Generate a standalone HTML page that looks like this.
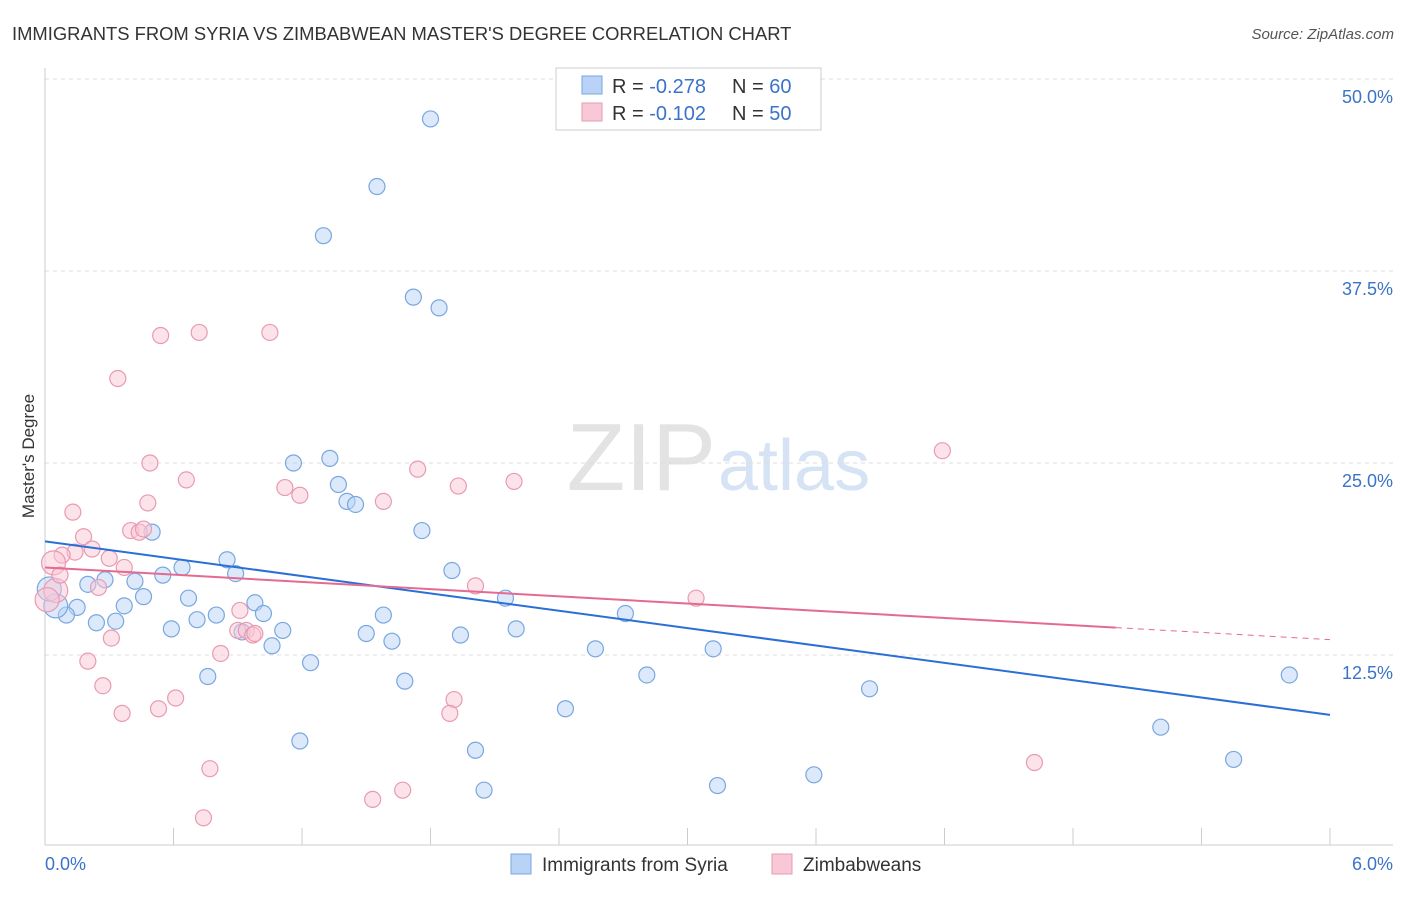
<!DOCTYPE html>
<html><head><meta charset="utf-8">
<style>
body{margin:0;background:#fff;font-family:"Liberation Sans",sans-serif;}
svg text{font-family:"Liberation Sans",sans-serif;}
</style></head>
<body>
<svg id="chart" width="1406" height="892" viewBox="0 0 1406 892" xmlns="http://www.w3.org/2000/svg">
<text x="12" y="40" font-size="18.4" fill="#333">IMMIGRANTS FROM SYRIA VS ZIMBABWEAN MASTER'S DEGREE CORRELATION CHART</text>
<text x="1394" y="39" font-size="15" fill="#555" text-anchor="end" font-style="italic">Source: ZipAtlas.com</text>
<text x="716" y="490" font-size="96" fill="#e3e3e3" text-anchor="end" font-family="Liberation Serif">ZIP</text>
<text x="718" y="490" font-size="72" fill="#d6e3f5">atlas</text>
<g id="grid"></g>
<g id="axes"></g>
<g id="pts"></g>
<g id="lines"></g>
<text transform="translate(34,456) rotate(-90)" font-size="17" fill="#333" text-anchor="middle">Master's Degree</text>
<g>
<rect x="556" y="68" width="265" height="62" fill="#fff" stroke="#ccc"/>
<rect x="582" y="76" width="20" height="18" fill="#b8d3f5" stroke="#7aa7e0"/>
<text x="612" y="93" font-size="20" fill="#333">R = <tspan fill="#3b73c9">-0.278</tspan></text>
<text x="732" y="93" font-size="20" fill="#333">N = <tspan fill="#3b73c9">60</tspan></text>
<rect x="582" y="103" width="20" height="18" fill="#f9c8d6" stroke="#e99ab2"/>
<text x="612" y="120" font-size="20" fill="#333">R = <tspan fill="#3b73c9">-0.102</tspan></text>
<text x="732" y="120" font-size="20" fill="#333">N = <tspan fill="#3b73c9">50</tspan></text>
</g>
<g>
<rect x="511" y="854" width="20" height="20" fill="#b8d3f5" stroke="#7aa7e0"/>
<text x="542" y="871" font-size="19" fill="#333">Immigrants from Syria</text>
<rect x="772" y="854" width="20" height="20" fill="#f9c8d6" stroke="#e99ab2"/>
<text x="803" y="871" font-size="19" fill="#333">Zimbabweans</text>
</g>
</svg>
<script>
const yTicks=[12.5,25,37.5,50];
const yTickLabels=["12.5%","25.0%","37.5%","50.0%"];
const xTickLabels=["0.0%","6.0%"];
const syriaX=[1.80,1.55,1.30,1.72,1.84,1.16,1.33,1.37,1.41,1.45,1.76,0.50,0.85,0.64,0.89,0.55,0.42,0.20,0.28,0.46,0.37,0.15,0.10,0.05,0.24,0.33,0.59,0.67,0.71,0.80,0.98,1.02,1.11,1.06,0.92,1.24,0.76,1.58,1.50,1.62,1.90,2.15,1.94,2.20,2.71,2.57,3.12,2.81,1.68,2.43,1.19,2.01,2.05,3.14,3.59,3.85,5.21,5.55,5.81,0.02];
const syriaY=[47.4,43.0,39.8,35.8,35.1,25.0,25.3,23.6,22.5,22.3,20.6,20.5,18.7,18.2,17.8,17.7,17.3,17.1,17.4,16.3,15.7,15.6,15.1,15.7,14.6,14.7,14.2,16.2,14.8,15.1,15.9,15.2,14.1,13.1,14.0,12.0,11.1,15.1,13.9,13.4,18.0,16.2,13.8,14.2,15.2,12.9,12.9,11.2,10.8,9.0,6.9,6.3,3.7,4.0,4.7,10.3,7.8,5.7,11.2,16.8];
const zimX=[0.72,0.54,1.05,0.34,0.49,0.66,0.48,1.12,1.19,1.74,1.93,2.19,1.58,4.19,0.13,0.18,0.22,0.14,0.08,0.04,0.40,0.44,0.46,0.30,0.37,0.25,0.31,0.20,0.27,0.36,0.53,0.61,0.82,0.91,0.90,0.94,0.97,0.98,2.01,3.04,1.91,1.89,0.77,0.74,1.53,1.67,4.62,0.05,0.07,0.01];
const zimY=[33.5,33.3,33.5,30.5,25.0,23.9,22.4,23.4,22.9,24.6,23.5,23.8,22.5,25.8,21.8,20.2,19.4,19.2,19.0,18.5,20.6,20.5,20.7,18.8,18.2,16.9,13.6,12.1,10.5,8.7,9.0,9.7,12.6,15.4,14.1,14.1,13.8,13.9,17.0,16.2,9.6,8.7,5.1,1.9,3.1,3.7,5.5,16.7,17.7,16.1];
const syriaTrend=[19.9,8.6];
const zimTrend=[18.2,13.5];
const zimTrendSolidEnd=5;
const xmin=0,xmax=6,ymin=0,ymax=50;
const X=v=>45+(v-xmin)/(xmax-xmin)*1285;
const Y=v=>847-(v-ymin)/(ymax-ymin)*768;
const NS="http://www.w3.org/2000/svg";
function mk(t,a,p){const e=document.createElementNS(NS,t);for(const k in a)e.setAttribute(k,a[k]);document.getElementById(p).appendChild(e);return e;}
yTicks.forEach((v,i)=>{
 const l=mk('line',{x1:45,x2:1393,y1:Y(v),y2:Y(v),stroke:'#ddd','stroke-dasharray':'4,4'},'grid');
 
 
 const t=mk('text',{x:1393,y:Y(v)+24,'font-size':18,fill:'#3b73c9','text-anchor':'end'},'grid');
 t.textContent=yTickLabels[i];
 
 
});
const ax=mk('line',{x1:45,x2:1393,y1:845,y2:845,stroke:'#ccc'},'axes');


const ay=mk('line',{x1:45,x2:45,y1:68,y2:845,stroke:'#ccc'},'axes');


for(let i=0;i<=10;i++){const tk=mk('line',{x1:X(i*0.6),x2:X(i*0.6),y1:828,y2:845,stroke:'#ccc'},'axes');
 
 }
[[0,'start',45],[6,'end',1393]].forEach((d,i)=>{const t=mk('text',{x:d[2],y:870,'font-size':18,fill:'#3b73c9','text-anchor':d[1]},'axes');t.textContent=xTickLabels[i];
 
 });
function pts(xs,ys,fill,stroke,name){xs.forEach((x,i)=>{const r=(x<0.06)?12:8;const c=mk('circle',{cx:X(x),cy:Y(ys[i]),r:r,fill:fill,'fill-opacity':0.5,stroke:stroke,'stroke-width':1.2},'pts');
 
 });}
pts(syriaX,syriaY,'#b8d3f5','#7aa7e0','syria-point');
pts(zimX,zimY,'#f9c8d6','#e99ab2','zimbabwe-point');
const lin=(tr,x)=>tr[0]+(tr[1]-tr[0])*x/6;
const l1=mk('line',{x1:X(0),y1:Y(lin(syriaTrend,0)),x2:X(6),y2:Y(lin(syriaTrend,6)),stroke:'#2a6fd6','stroke-width':2},'lines');


const l2=mk('line',{x1:X(0),y1:Y(lin(zimTrend,0)),x2:X(zimTrendSolidEnd),y2:Y(lin(zimTrend,zimTrendSolidEnd)),stroke:'#e46a92','stroke-width':2},'lines');


const l3=mk('line',{x1:X(zimTrendSolidEnd),y1:Y(lin(zimTrend,zimTrendSolidEnd)),x2:X(6),y2:Y(lin(zimTrend,6)),stroke:'#e46a92','stroke-width':1,'stroke-dasharray':'6,5'},'lines');


</script>
</body></html>
